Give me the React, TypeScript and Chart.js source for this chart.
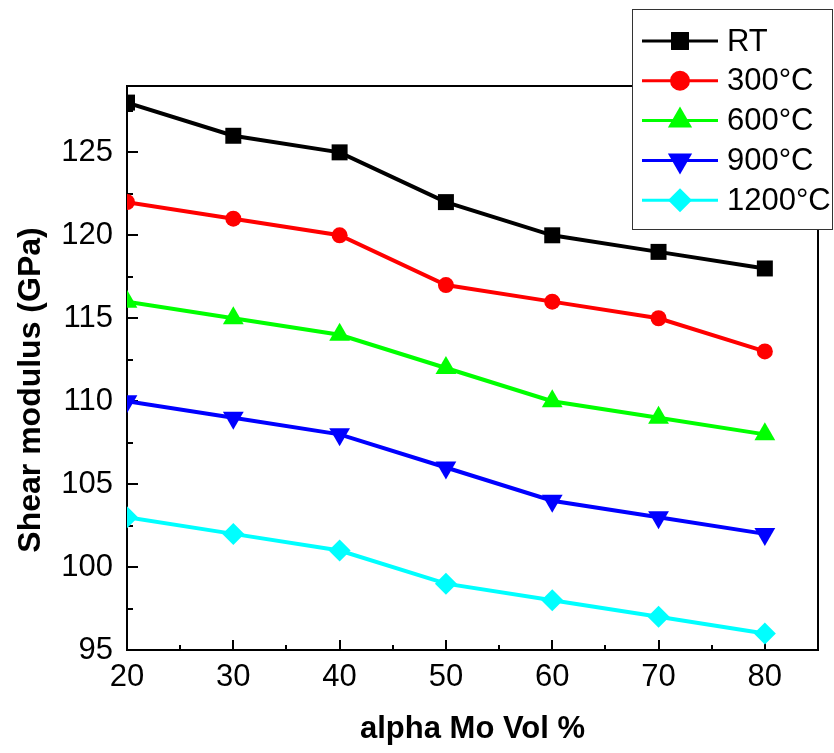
import React, { useEffect, useRef } from 'react';
import { Chart, registerables } from 'chart.js';

Chart.register(...registerables);

// ---- data ----
const xValues = [20, 30, 40, 50, 60, 70, 80];
const seriesLabels = ['RT', '300°C', '600°C', '900°C', '1200°C'];
const rtValues = [128, 126, 125, 122, 120, 119, 118];
const t300Values = [122, 121, 120, 117, 116, 115, 113];
const t600Values = [116, 115, 114, 112, 110, 109, 108];
const t900Values = [110, 109, 108, 106, 104, 103, 102];
const t1200Values = [103, 102, 101, 99, 98, 97, 96];
const xTickValues = [20, 30, 40, 50, 60, 70, 80];
const yTickValues = [95, 100, 105, 110, 115, 120, 125];
const xTitle = 'alpha Mo Vol %';
const yTitle = 'Shear modulus (GPa)';

// ---- styles ----
const FONT = "'Liberation Sans', Arial, sans-serif";
const colors = ['#000000', '#ff0000', '#00ff00', '#0000ff', '#00ffff'];
const shapes = ['rect', 'circle', 'triangle', 'triangleDown', 'diamond'];
const plotRadius = [11.3, 8, 12, 12, 11];
const legendRadius = [12.7, 10, 14, 14, 12];

function drawMarker(ctx: CanvasRenderingContext2D, shape: string, x: number, y: number, r: number, color: string) {
  ctx.save();
  ctx.fillStyle = color;
  ctx.beginPath();
  if (shape === 'rect') {
    const s = r * Math.SQRT1_2;
    ctx.rect(x - s, y - s, 2 * s, 2 * s);
  } else if (shape === 'circle') {
    ctx.arc(x, y, r, 0, Math.PI * 2);
  } else if (shape === 'triangle' || shape === 'triangleDown') {
    const rot = shape === 'triangle' ? 0 : Math.PI;
    for (let k = 0; k < 3; k++) {
      const a = rot + (k * 2 * Math.PI) / 3;
      const px = x + Math.sin(a) * r;
      const py = y - Math.cos(a) * r;
      if (k === 0) ctx.moveTo(px, py);
      else ctx.lineTo(px, py);
    }
    ctx.closePath();
  } else {
    ctx.moveTo(x, y - r);
    ctx.lineTo(x + r, y);
    ctx.lineTo(x, y + r);
    ctx.lineTo(x - r, y);
    ctx.closePath();
  }
  ctx.fill();
  ctx.restore();
}

function midpoints(vals: number[]): number[] {
  const out: number[] = [];
  for (let i = 0; i < vals.length - 1; i++) out.push((vals[i] + vals[i + 1]) / 2);
  return out;
}

const framePlugin = {
  id: 'frameTicks',
  beforeDatasetsDraw(chart: any) {
    const { ctx, chartArea: a, scales } = chart;
    const xs = scales.x;
    const ys = scales.y;
    ctx.save();
    ctx.strokeStyle = '#000';
    ctx.lineWidth = 2;
    ctx.strokeRect(a.left, a.top, a.right - a.left, a.bottom - a.top);
    ctx.beginPath();
    for (const v of xTickValues) {
      const px = Math.round(xs.getPixelForValue(v));
      ctx.moveTo(px, a.bottom);
      ctx.lineTo(px, a.bottom - 10);
    }
    for (const v of midpoints(xTickValues)) {
      const px = Math.round(xs.getPixelForValue(v));
      ctx.moveTo(px, a.bottom);
      ctx.lineTo(px, a.bottom - 5);
    }
    for (const v of yTickValues) {
      const py = Math.round(ys.getPixelForValue(v));
      ctx.moveTo(a.left, py);
      ctx.lineTo(a.left + 11, py);
    }
    const yMinor = midpoints(yTickValues);
    yMinor.push(yTickValues[yTickValues.length - 1] + 2.5);
    for (const v of yMinor) {
      const py = Math.round(ys.getPixelForValue(v));
      ctx.moveTo(a.left, py);
      ctx.lineTo(a.left + 6, py);
    }
    ctx.stroke();

    // y-axis title
    ctx.save();
    ctx.translate(31, 390);
    ctx.rotate(-Math.PI / 2);
    ctx.font = `bold 32px ${FONT}`;
    ctx.fillStyle = '#000';
    ctx.textAlign = 'center';
    ctx.textBaseline = 'middle';
    ctx.fillText(yTitle, 0, 0);
    ctx.restore();
    ctx.restore();

    // clip datasets to the plot frame
    ctx.save();
    ctx.beginPath();
    ctx.rect(a.left - 1, a.top - 1, a.right - a.left + 2, a.bottom - a.top + 2);
    ctx.clip();
  },
  afterDatasetsDraw(chart: any) {
    chart.ctx.restore();
  },
};

const legendPlugin = {
  id: 'boxLegend',
  afterDraw(chart: any) {
    const { ctx } = chart;
    ctx.save();
    ctx.fillStyle = '#fff';
    ctx.fillRect(632, 9, 201, 221);
    ctx.strokeStyle = '#333';
    ctx.lineWidth = 1;
    ctx.strokeRect(632.5, 9.5, 200, 220);
    seriesLabels.forEach((label, i) => {
      const y = 41 + i * 39.8;
      ctx.strokeStyle = colors[i];
      ctx.lineWidth = 3;
      ctx.beginPath();
      ctx.moveTo(642, y);
      ctx.lineTo(718, y);
      ctx.stroke();
      drawMarker(ctx, shapes[i], 680, y, legendRadius[i], colors[i]);
      ctx.fillStyle = '#000';
      ctx.font = `31px ${FONT}`;
      ctx.textAlign = 'left';
      ctx.textBaseline = 'middle';
      ctx.fillText(label, 727, y + 1);
    });
    ctx.restore();
  },
};

const seriesValues = [rtValues, t300Values, t600Values, t900Values, t1200Values];

function chartPointStyle(shape: string) {
  if (shape === 'triangleDown') return 'triangle';
  if (shape === 'diamond') return 'rectRot';
  return shape;
}

export default function App() {
  const ref = useRef<HTMLCanvasElement | null>(null);
  useEffect(() => {
    if (!ref.current) return;
    const chart = new Chart(ref.current, {
      type: 'line',
      data: {
        datasets: seriesLabels.map((label, i) => ({
          label,
          data: xValues.map((x, j) => ({ x, y: seriesValues[i][j] })),
          borderColor: colors[i],
          backgroundColor: colors[i],
          borderWidth: 4,
          pointStyle: chartPointStyle(shapes[i]) as any,
          pointRotation: shapes[i] === 'triangleDown' ? 180 : 0,
          pointRadius: plotRadius[i],
          pointBorderWidth: 0,
          pointBackgroundColor: colors[i],
          tension: 0,
          clip: 0,
        })),
      },
      options: {
        responsive: false,
        animation: false,
        devicePixelRatio: 1,
        layout: { padding: { left: 0, top: 86, right: 16, bottom: 0 } },
        plugins: { legend: { display: false }, tooltip: { enabled: false } },
        scales: {
          x: {
            type: 'linear',
            min: 20,
            max: 85,
            grid: { display: false, drawTicks: false },
            border: { display: false },
            ticks: {
              stepSize: 10,
              includeBounds: false,
              color: '#000',
              padding: 9,
              font: { family: FONT, size: 31 },
              maxRotation: 0,
            },
            title: {
              display: true,
              text: xTitle,
              color: '#000',
              font: { family: FONT, size: 31, weight: 'bold' },
              padding: { top: 0, bottom: 5 },
            },
            afterFit: (s: any) => {
              s.height = 103;
            },
          },
          y: {
            type: 'linear',
            min: 95,
            max: 129,
            grid: { display: false, drawTicks: false },
            border: { display: false },
            ticks: {
              stepSize: 5,
              includeBounds: false,
              color: '#000',
              padding: 14,
              font: { family: FONT, size: 31 },
            },
            afterFit: (s: any) => {
              s.width = 127;
            },
          },
        },
      },
      plugins: [framePlugin, legendPlugin],
    });
    return () => chart.destroy();
  }, []);
  return (
    <div style={{ position: 'absolute', left: 0, top: 0, width: 834, height: 753, background: '#fff' }}>
      <canvas ref={ref} width={834} height={753} style={{ display: 'block' }} />
    </div>
  );
}
